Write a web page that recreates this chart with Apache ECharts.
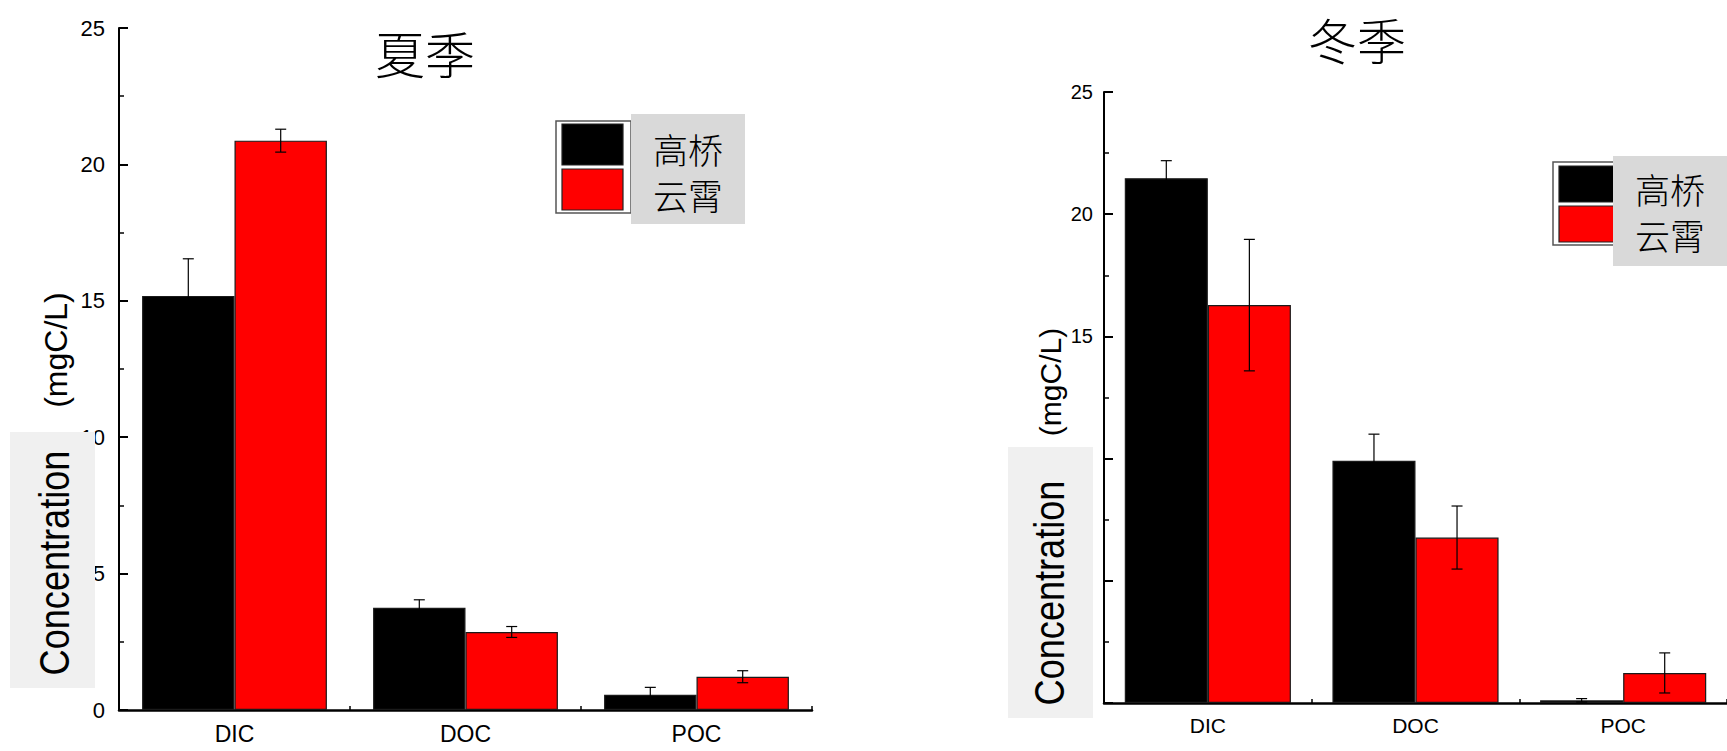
<!DOCTYPE html>
<html>
<head>
<meta charset="utf-8">
<title>DIC / DOC / POC 浓度</title>
<script src="https://cdn.jsdelivr.net/npm/echarts@6.0.0/dist/echarts.min.js"></script>
<style>
  html, body { margin: 0; padding: 0; background: #fff; }
  #chart { width: 1727px; height: 751px; }
</style>
</head>
<body>
<div id="chart"></div>
<script>
// Carbon species on the x axis
const categories = ['DIC', 'DOC', 'POC'];
// Sampling sites (series names)
const sites = ['高桥', '云霄'];
const siteColors = ['#000000', '#ff0000'];
// Panel titles
const seasons = ['夏季', '冬季'];

// Summer means and standard deviations (mgC/L)
const summerGaoqiao = [15.18, 3.75, 0.56];
const summerGaoqiaoErr = [1.36, 0.29, 0.27];
const summerYunxiao = [20.87, 2.86, 1.22];
const summerYunxiaoErr = [0.42, 0.20, 0.22];

// Winter means and standard deviations (mgC/L)
const winterGaoqiao = [21.47, 9.91, 0.11];
const winterGaoqiaoErr = [0.72, 1.09, 0.07];
const winterYunxiao = [16.28, 6.77, 1.23];
const winterYunxiaoErr = [2.69, 1.29, 0.82];

// Value axis range
const yMin = 0;
const yMax = 25;
const yStep = 5;

const unitLabel = '(mgC/L)';
const nameLabel = 'Concentration';

const SANS = "'Liberation Sans', Arial, sans-serif";
const CJK = "'Noto Sans CJK SC', 'Noto Sans CJK JP', sans-serif";

// bars: barCategoryGap 20%, barGap 0 -> each bar is 40% of the band
const barOffsets = [-0.2, 0.2];

function errorSeries(axisIndex, siteIndex, means, errs) {
  return {
    type: 'custom',
    name: sites[siteIndex] + ' SD',
    xAxisIndex: axisIndex,
    yAxisIndex: axisIndex,
    z: 5,
    silent: true,
    encode: { x: 0, y: 1 },
    data: means.map((v, i) => [i, v, errs[i]]),
    renderItem: function (params, api) {
      const idx = api.value(0);
      const v = api.value(1);
      const e = api.value(2);
      const band = api.size([1, 0])[0];
      const cx = api.coord([idx, v])[0] + band * barOffsets[siteIndex];
      const yTop = api.coord([idx, v + e])[1];
      const yBot = api.coord([idx, Math.max(v - e, 0)])[1];
      const cap = 5.5;
      const style = { stroke: '#000', lineWidth: 1.2 };
      return {
        type: 'group',
        children: [
          { type: 'line', shape: { x1: cx, y1: yTop, x2: cx, y2: yBot }, style: style },
          { type: 'line', shape: { x1: cx - cap, y1: yTop, x2: cx + cap, y2: yTop }, style: style },
          { type: 'line', shape: { x1: cx - cap, y1: yBot, x2: cx + cap, y2: yBot }, style: style }
        ]
      };
    }
  };
}

function barSeries(axisIndex, siteIndex, values) {
  return {
    type: 'bar',
    name: sites[siteIndex],
    xAxisIndex: axisIndex,
    yAxisIndex: axisIndex,
    barGap: '0%',
    barCategoryGap: '20%',
    z: 2,
    itemStyle: { color: siteColors[siteIndex], borderColor: '#1a1a1a', borderWidth: 1.2 },
    data: values
  };
}

function xAxis(gridIndex, fontSize, margin) {
  return {
    type: 'category',
    gridIndex: gridIndex,
    data: categories,
    boundaryGap: true,
    axisLine: { show: true, lineStyle: { color: '#000', width: 2.5 } },
    axisTick: { show: true, inside: true, length: 4, alignWithLabel: false, lineStyle: { color: '#000', width: 1.5 } },
    axisLabel: { color: '#000', fontSize: fontSize, fontFamily: SANS, margin: margin },
    splitLine: { show: false }
  };
}

function yAxis(gridIndex, fontSize, margin) {
  return {
    type: 'value',
    gridIndex: gridIndex,
    min: yMin,
    max: yMax,
    interval: yStep,
    axisLine: { show: true, lineStyle: { color: '#000', width: 2 } },
    axisTick: { show: true, inside: true, length: 9, lineStyle: { color: '#000', width: 2 } },
    minorTick: { show: true, splitNumber: 2, length: 5, lineStyle: { color: '#000', width: 1.5 } },
    axisLabel: { color: '#000', fontSize: fontSize, fontFamily: SANS, margin: margin },
    splitLine: { show: false },
    minorSplitLine: { show: false }
  };
}

// Legend block: framed swatches beside a grey label box
function legendBlock(frame, swatches, labelBox, labelCenters, fontSize) {
  const els = [
    { type: 'rect', z: 100, shape: frame, style: { fill: '#fff', stroke: '#555', lineWidth: 1.5 } }
  ];
  swatches.forEach((s, i) => {
    els.push({ type: 'rect', z: 101, shape: s, style: { fill: siteColors[i], stroke: '#222', lineWidth: 1.2 } });
  });
  els.push({ type: 'rect', z: 102, shape: labelBox, style: { fill: '#d9d9d9' } });
  labelCenters.forEach((c, i) => {
    els.push({
      type: 'text', z: 103, x: c[0], y: c[1],
      style: {
        text: sites[i], font: '300 ' + fontSize + 'px ' + CJK, lineHeight: fontSize,
        fill: '#000', textAlign: 'center', textVerticalAlign: 'middle'
      }
    });
  });
  return els;
}

// Vertical axis name: unit text plus a grey box with the word label
function axisNameBlock(unitPos, unitSize, box, namePos, nameSize, extra) {
  const els = [];
  if (extra) {
    els.push({
      type: 'text', z: 99, x: extra[0], y: extra[1], rotation: Math.PI / 2,
      style: { text: '：', font: unitSize + 'px ' + CJK, fill: '#000', textAlign: 'center', textVerticalAlign: 'middle' }
    });
  }
  els.push({
    type: 'text', z: 99, x: unitPos[0], y: unitPos[1], rotation: Math.PI / 2,
    style: { text: unitLabel, font: unitSize + 'px ' + SANS, fill: '#000', textAlign: 'center', textVerticalAlign: 'middle' }
  });
  els.push({ type: 'rect', z: 100, shape: box, style: { fill: '#f0f0f0' } });
  // condensed lettering: horizontal squeeze along the text direction
  els.push({
    type: 'text', z: 101, x: namePos[0], y: namePos[1], rotation: Math.PI / 2, scaleX: 0.86,
    style: { text: nameLabel, font: nameSize + 'px ' + SANS, fill: '#000', textAlign: 'center', textVerticalAlign: 'middle' }
  });
  return els;
}

const graphics = [].concat(
  [
    { type: 'text', z: 100, x: 425, y: 52, style: { text: seasons[0], font: '300 50px ' + CJK, fill: '#000', textAlign: 'center', textVerticalAlign: 'middle' } },
    { type: 'text', z: 100, x: 1357, y: 38, style: { text: seasons[1], font: '300 49px ' + CJK, fill: '#000', textAlign: 'center', textVerticalAlign: 'middle' } }
  ],
  legendBlock(
    { x: 556, y: 121, width: 75, height: 92 },
    [{ x: 562, y: 124, width: 61, height: 41 }, { x: 562, y: 169, width: 61, height: 41 }],
    { x: 631, y: 114, width: 114, height: 110 },
    [[688, 148], [688, 194]], 35
  ),
  legendBlock(
    { x: 1553, y: 162, width: 62, height: 83 },
    [{ x: 1559, y: 166, width: 56, height: 36 }, { x: 1559, y: 206, width: 56, height: 36 }],
    { x: 1613, y: 156, width: 114, height: 110 },
    [[1670, 188], [1670, 234]], 35
  ),
  axisNameBlock([56, 350], 32, { x: 10, y: 432, width: 85, height: 256 }, [55, 563], 42, [56, 428]),
  axisNameBlock([1050, 382], 30, { x: 1008, y: 447, width: 85, height: 271 }, [1050, 593], 42, null)
);

const chart = echarts.init(document.getElementById('chart'), null, { renderer: 'svg' });
chart.setOption({
  backgroundColor: '#fff',
  animation: false,
  grid: [
    { left: 119, top: 28, width: 693, height: 682, containLabel: false },
    { left: 1104, top: 92, width: 623, height: 611, containLabel: false }
  ],
  xAxis: [xAxis(0, 23, 12), xAxis(1, 21, 12)],
  yAxis: [yAxis(0, 22, 14), yAxis(1, 20, 11)],
  series: [
    barSeries(0, 0, summerGaoqiao),
    barSeries(0, 1, summerYunxiao),
    barSeries(1, 0, winterGaoqiao),
    barSeries(1, 1, winterYunxiao),
    errorSeries(0, 0, summerGaoqiao, summerGaoqiaoErr),
    errorSeries(0, 1, summerYunxiao, summerYunxiaoErr),
    errorSeries(1, 0, winterGaoqiao, winterGaoqiaoErr),
    errorSeries(1, 1, winterYunxiao, winterYunxiaoErr)
  ],
  graphic: { elements: graphics }
});
</script>
</body>
</html>
